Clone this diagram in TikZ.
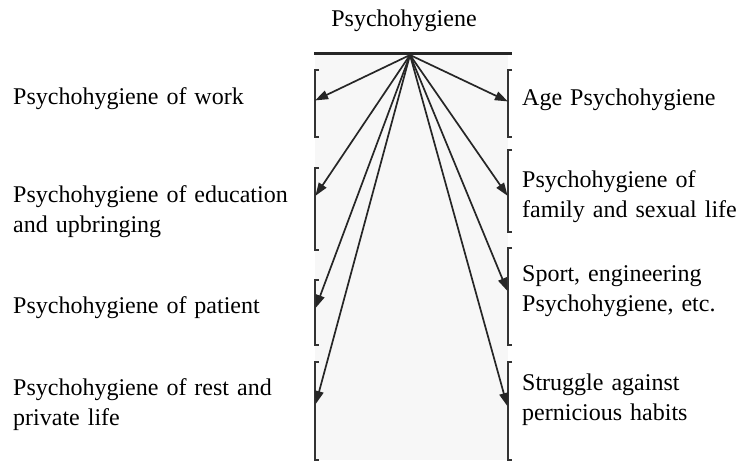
\documentclass[tikz,border=0pt]{standalone}
\usepackage{fontspec}
\setmainfont{Liberation Serif}
\usetikzlibrary{arrows.meta}
\newcommand{\labelfnt}{\fontsize{24}{30}\selectfont\spaceskip=8pt plus 2pt\relax}

\begin{document}
\begin{tikzpicture}[x=1pt,y=-1pt,
  label text/.style={inner sep=0pt, anchor=base west, align=left,
    font=\labelfnt},
  spoke/.style={draw=black!85, line width=1.7pt,
    -{Triangle[length=13pt,width=9pt]}, shorten >=-1pt},
  bracket/.style={draw=black!80, line width=1.2pt},
  bar/.style={draw=black!85, line width=3pt}
]
\useasboundingbox (0,0) rectangle (738,460);

% faint panel behind the spokes
\fill[black!3] (315,54) rectangle (508,460);

% top bar and the point the spokes leave from
\coordinate (apex) at (410,55);
\draw[bar] (314,54) -- (512,54);

% heading
\node[label text, anchor=base] (title) at (404,27) {Psychohygiene};

% left brackets
\foreach \a/\b in {70/137, 168/250, 280/345, 362/460}{
  \draw[bracket] (319,\a) -- (315,\a) -- (315,\b) -- (319,\b);
}
% right brackets
\foreach \a/\b in {70/137, 150/232, 248/345, 362/460}{
  \draw[bracket] (512,\a) -- (508,\a) -- (508,\b) -- (512,\b);
}

% arrow targets on the brackets
\coordinate (L1) at (316,100);
\coordinate (L2) at (316,195);
\coordinate (L3) at (316,307);
\coordinate (L4) at (316,403);
\coordinate (R1) at (507,101);
\coordinate (R2) at (507,195);
\coordinate (R3) at (507,290);
\coordinate (R4) at (507,405);

\foreach \t in {L1,L2,L3,L4,R1,R2,R3,R4}
  \draw[spoke] (apex) -- (\t);

% left labels (multi-line nodes sit on the baseline of their last line)
\node[label text] (work) at (13,104) {Psychohygiene of work};
\node[label text] (edu) at (13,232) {Psychohygiene of education\\and upbringing};
\node[label text] (patient) at (13,313) {Psychohygiene of patient};
\node[label text] (rest) at (13,425) {Psychohygiene of rest and\\private life};

% right labels
\node[label text] (age) at (522,105) {Age Psychohygiene};
\node[label text] (family) at (522,217) {Psychohygiene of\\family and sexual life};
\node[label text] (sport) at (522,311) {Sport, engineering\\Psychohygiene, etc.};
\node[label text] (habits) at (522,420) {Struggle against\\pernicious habits};
\end{tikzpicture}
\end{document}
